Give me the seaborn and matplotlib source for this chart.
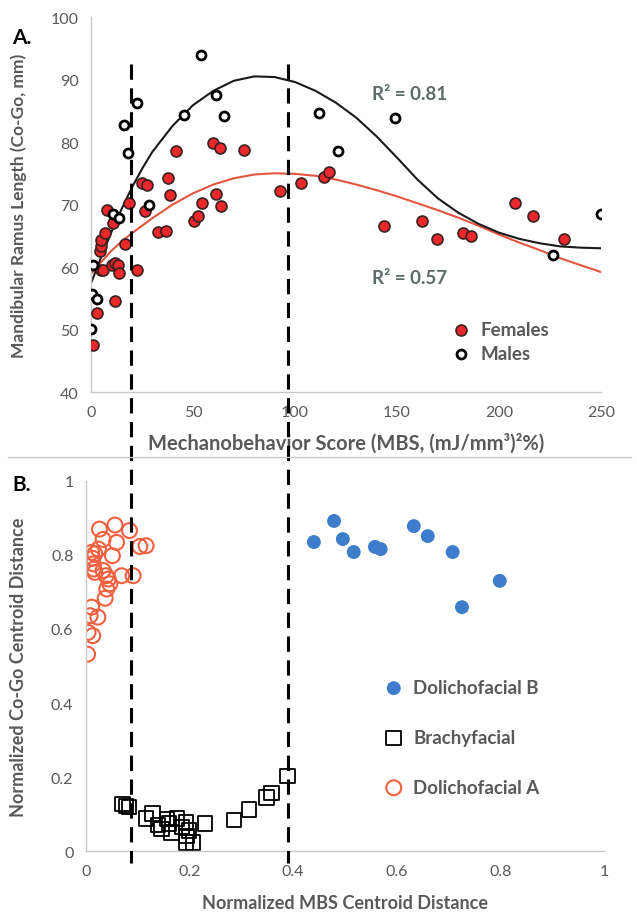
import numpy as np
import pandas as pd
import matplotlib
matplotlib.use('Agg')
import matplotlib.pyplot as plt
import matplotlib.transforms as mtransforms
from matplotlib.lines import Line2D
import seaborn as sns

# Panel A - mechanobehavior score vs ramus length
fem_mbs = [0.8, 2.8, 11.8, 4.2, 4.7, 4.7, 6.9, 10.9, 7.7, 18.8, 16.8, 4.7, 6.0, 10.1,
           11.8, 13.4, 13.5, 22.4, 26.3, 25.1, 27.6, 32.7, 36.9, 37.9, 38.9, 41.8, 50.7,
           52.5, 54.2, 60.0, 63.2, 61.4, 63.9, 74.8, 92.5, 103.1, 114.1, 116.7, 143.8,
           162.3, 169.6, 182.5, 186.3, 207.8, 216.5, 232.0]
fem_len = [47.5, 52.7, 54.5, 62.6, 63.3, 64.4, 65.5, 67.0, 69.2, 70.2, 63.7, 59.5, 59.6, 60.3,
           60.6, 60.4, 59.0, 59.5, 69.0, 73.4, 73.2, 65.6, 65.8, 74.3, 71.6, 78.6, 67.3,
           68.2, 70.3, 79.8, 79.0, 71.7, 69.8, 78.7, 72.1, 73.4, 74.4, 75.2, 66.6,
           67.4, 64.5, 65.4, 65.0, 70.2, 68.2, 64.5]
male_mbs = [0.1, 0.6, 3.1, 1.1, 10.9, 13.7, 16.3, 18.0, 22.7, 28.3, 45.8, 53.8, 61.1, 65.0,
            111.9, 121.2, 149.0, 226.3, 250.0]
male_len = [50.1, 55.7, 54.9, 60.4, 68.5, 67.8, 82.7, 78.3, 86.3, 70.0, 84.4, 94.0, 87.6, 84.1,
            84.6, 78.5, 83.8, 61.9, 68.5]

# trend lines
trend_mbs = [0, 5, 10, 15, 20, 25, 30, 40, 50, 60, 70, 80, 90, 100, 110, 120, 130, 140,
             150, 160, 170, 180, 190, 200, 210, 220, 230, 240, 250]
trend_male = [57.4, 61.6, 65.6, 69.3, 72.7, 75.7, 78.4, 82.6, 85.9, 88.2, 89.8, 90.5, 90.4,
              89.6, 88.2, 86.3, 83.9, 80.9, 77.5, 74.0, 71.0, 68.7, 66.9, 65.5, 64.5, 63.8,
              63.3, 63.1, 63.0]
trend_fem = [58.9, 60.8, 62.6, 64.1, 65.4, 66.6, 67.8, 70.0, 71.8, 73.2, 74.2, 74.8, 75.0,
             74.9, 74.6, 74.0, 73.2, 72.3, 71.3, 70.2, 69.1, 67.9, 66.6, 65.2, 63.9, 62.7,
             61.4, 60.3, 59.2]

# Panel B - normalized centroid distances
dolB_x = [0.440, 0.479, 0.496, 0.517, 0.558, 0.569, 0.633, 0.660, 0.708, 0.726, 0.799]
dolB_y = [0.835, 0.892, 0.843, 0.808, 0.822, 0.816, 0.878, 0.851, 0.808, 0.659, 0.730]
brachy_x = [0.070, 0.077, 0.083, 0.116, 0.128, 0.146, 0.156, 0.165, 0.176, 0.193, 0.194,
            0.193, 0.207, 0.230, 0.286, 0.315, 0.349, 0.358, 0.389, 0.139, 0.185, 0.199, 0.160]
brachy_y = [0.127, 0.122, 0.119, 0.088, 0.101, 0.059, 0.086, 0.050, 0.088, 0.077, 0.041,
            0.023, 0.023, 0.075, 0.084, 0.112, 0.145, 0.157, 0.203, 0.070, 0.065, 0.055, 0.075]
dolA_x = [0.026, 0.056, 0.084, 0.033, 0.059, 0.104, 0.116, 0.017, 0.051, 0.013, 0.014, 0.015,
          0.017, 0.033, 0.039, 0.043, 0.046, 0.040, 0.069, 0.091, 0.037, 0.011, 0.008, 0.023,
          0.004, 0.013, 0.003, 0.024, 0.011]
dolA_y = [0.870, 0.881, 0.866, 0.842, 0.834, 0.823, 0.825, 0.803, 0.798, 0.791, 0.776, 0.762,
          0.753, 0.758, 0.744, 0.735, 0.722, 0.708, 0.744, 0.744, 0.683, 0.659, 0.636, 0.632,
          0.591, 0.582, 0.532, 0.816, 0.807]

mbs_cutoffs = [19.4, 96.8]

grey = '#595959'
plt.rcParams['font.family'] = ['Lato', 'DejaVu Sans']

fig = plt.figure(figsize=(6.37, 9.2), dpi=100)
ax1 = fig.add_axes([0.1429, 0.5728, 0.8006, 0.4076])
ax2 = fig.add_axes([0.1350, 0.0739, 0.8130, 0.4022])

# ---- panel A
sns.lineplot(x=trend_mbs, y=trend_fem, color='#E2553F', lw=1.5, ax=ax1)
sns.lineplot(x=trend_mbs, y=trend_male, color='#1a1a1a', lw=1.5, ax=ax1)
sns.scatterplot(x=fem_mbs, y=fem_len, color='#E8282A', edgecolor='#3a1f1f', linewidth=1.2,
                s=62, label='Females', ax=ax1, zorder=3)
sns.scatterplot(x=male_mbs, y=male_len, color='white', edgecolor='black', linewidth=2,
                s=42, label='Males', ax=ax1, zorder=3)
ax1.set_xlim(0, 250)
ax1.set_ylim(40, 100)
ax1.set_xticks(range(0, 251, 50))
ax1.set_yticks(range(40, 101, 10))
ax1.set_xlabel('Mechanobehavior Score (MBS, (mJ/mm\u00b3)\u00b2%)', fontsize=14.5,
               fontweight='bold', color=grey)
ax1.set_ylabel('Mandibular Ramus Length (Co-Go, mm)', fontsize=12.5, fontweight='bold', color=grey)
ax1.xaxis.set_label_coords(0.5, -0.108)
ax1.yaxis.set_label_coords(-0.125, 0.5)
ax1.text(156, 87.7, 'R\u00b2 = 0.81', fontsize=13.5, fontweight='bold', color='#5f6b6b',
         ha='center', va='center')
ax1.text(156, 58.4, 'R\u00b2 = 0.57', fontsize=13.5, fontweight='bold', color='#5f6b6b',
         ha='center', va='center')
ax1.legend(loc='upper left', bbox_to_anchor=(0.67, 0.215), frameon=False,
           labelcolor=grey, handletextpad=0.05, labelspacing=0.4, borderpad=0,
           prop=dict(weight='bold', size=13.5))

# ---- panel B
sns.scatterplot(x=dolB_x, y=dolB_y, color='#3E7DCB', edgecolor='none', s=100,
                label='Dolichofacial B', ax=ax2)
sns.scatterplot(x=brachy_x, y=brachy_y, marker='s', facecolor='none', edgecolor='black',
                linewidth=1.3, s=110, label='Brachyfacial', ax=ax2)
sns.scatterplot(x=dolA_x, y=dolA_y, marker='o', facecolor='none', edgecolor='#F2603F',
                linewidth=1.5, s=115, label='Dolichofacial A', ax=ax2)
ax2.set_xlim(0, 1)
ax2.set_ylim(0, 1)
ax2.set_xticks([0, 0.2, 0.4, 0.6, 0.8, 1])
ax2.set_xticklabels(['0', '0.2', '0.4', '0.6', '0.8', '1'])
ax2.set_yticks([0, 0.2, 0.4, 0.6, 0.8, 1])
ax2.set_yticklabels(['0', '0.2', '0.4', '0.6', '0.8', '1'])
ax2.set_xlabel('Normalized MBS Centroid Distance', fontsize=13, fontweight='bold', color=grey)
ax2.set_ylabel('Normalized Co-Go Centroid Distance', fontsize=13, fontweight='bold', color=grey)
ax2.xaxis.set_label_coords(0.5, -0.115)
ax2.yaxis.set_label_coords(-0.113, 0.5)
ax2.legend(loc='upper left', bbox_to_anchor=(0.54, 0.49), frameon=False,
           labelcolor=grey, handletextpad=0.05, labelspacing=1.75, borderpad=0,
           prop=dict(weight='bold', size=13.5))

for ax in (ax1, ax2):
    for side in ('top', 'right'):
        ax.spines[side].set_visible(False)
    for side in ('left', 'bottom'):
        ax.spines[side].set_color('#C8C8C8')
        ax.spines[side].set_linewidth(1)
    ax.tick_params(length=0, labelsize=11.5, labelcolor=grey, pad=9)
    ax.set_facecolor('white')

# dashed cutoffs crossing both panels
trans = mtransforms.blended_transform_factory(ax1.transData, fig.transFigure)
for c in mbs_cutoffs:
    fig.add_artist(Line2D([c, c], [1 - 65 / 920, 1 - 864 / 920], transform=trans,
                          color='black', lw=2.2, ls=(0, (5, 2.8))))

# panel separator and labels
fig.add_artist(Line2D([0.012, 0.99], [1 - 458 / 920, 1 - 458 / 920], transform=fig.transFigure,
                      color='#C8C8C8', lw=1))
fig.text(22 / 637, 1 - 38 / 920, 'A.', fontsize=15, fontweight='bold', ha='center', va='center')
fig.text(22 / 637, 1 - 485 / 920, 'B.', fontsize=15, fontweight='bold', ha='center', va='center')

fig.savefig('out.png', dpi=100)
